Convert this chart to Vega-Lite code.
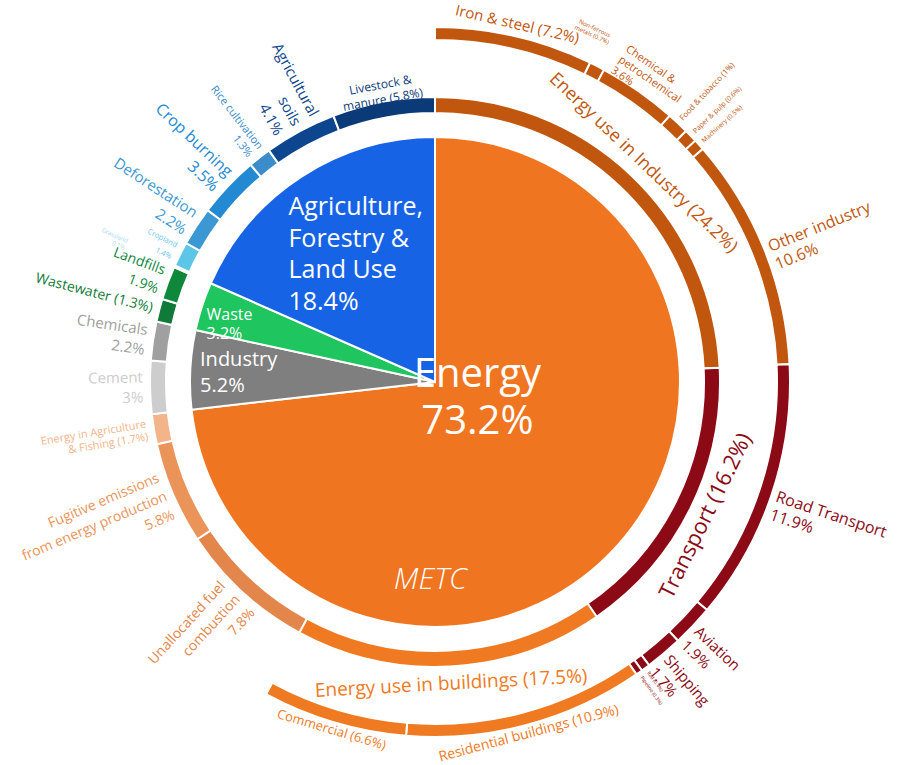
{
  "$schema": "https://vega.github.io/schema/vega-lite/v6.json",
  "width": 870,
  "height": 764,
  "autosize": {"type": "none"},
  "padding": {"left": 0, "top": 0, "right": 39, "bottom": 1},
  "background": "white",
  "config": {"view": {"stroke": null}, "text": {"font": "Open Sans", "lineBreak": "\n"}},
  "datasets": {
    "pie": [
      {"name": "Energy", "value": 73.2, "label": "Energy\n73.2%"},
      {"name": "Industry", "value": 5.2, "label": "Industry\n5.2%"},
      {"name": "Waste", "value": 3.2, "label": "Waste\n3.2%"},
      {"name": "Agriculture, Forestry & Land Use", "value": 18.4, "label": "Agriculture,\nForestry &\nLand Use\n18.4%"}
    ],
    "mid": [
      {"name": "Energy use in Industry", "value": 24.2, "label": "Energy use in Industry (24.2%)"},
      {"name": "Transport", "value": 16.2, "label": "Transport (16.2%)"},
      {"name": "Energy use in buildings", "value": 17.5, "label": "Energy use in buildings (17.5%)"},
      {"name": "Unallocated fuel combustion", "value": 7.8, "label": "Unallocated fuel\ncombustion\n7.8%"},
      {"name": "Fugitive emissions from energy production", "value": 5.8, "label": "Fugitive emissions\nfrom energy production\n5.8%"},
      {"name": "Energy in Agriculture & Fishing", "value": 1.7, "label": "Energy in Agriculture\n& Fishing (1.7%)"},
      {"name": "Cement", "value": 3, "label": "Cement\n3%"},
      {"name": "Chemicals", "value": 2.2, "label": "Chemicals\n2.2%"},
      {"name": "Wastewater", "value": 1.3, "label": "Wastewater (1.3%)"},
      {"name": "Landfills", "value": 1.9, "label": "Landfills\n1.9%"},
      {"name": "Grassland", "value": 0.1, "label": "Grassland\n0.1%"},
      {"name": "Cropland", "value": 1.4, "label": "Cropland\n1.4%"},
      {"name": "Deforestation", "value": 2.2, "label": "Deforestation\n2.2%"},
      {"name": "Crop burning", "value": 3.5, "label": "Crop burning\n3.5%"},
      {"name": "Rice cultivation", "value": 1.3, "label": "Rice cultivation\n1.3%"},
      {"name": "Agricultural soils", "value": 4.1, "label": "Agricultural\nsoils\n4.1%"},
      {"name": "Livestock & manure", "value": 5.8, "label": "Livestock &\nmanure (5.8%)"}
    ],
    "out": [
      {"name": "Iron & steel", "value": 7.2, "label": "Iron & steel (7.2%)"},
      {"name": "Non-ferrous metals", "value": 0.7, "label": "Non-ferrous\nmetals (0.7%)"},
      {"name": "Chemical & petrochemical", "value": 3.6, "label": "Chemical &\npetrochemical\n3.6%"},
      {"name": "Food & tobacco", "value": 1, "label": "Food & tobacco (1%)"},
      {"name": "Paper & pulp", "value": 0.6, "label": "Paper & pulp (0.6%)"},
      {"name": "Machinery", "value": 0.5, "label": "Machinery (0.5%)"},
      {"name": "Other industry", "value": 10.6, "label": "Other industry\n10.6%"},
      {"name": "Road Transport", "value": 11.9, "label": "Road Transport\n11.9%"},
      {"name": "Aviation", "value": 1.9, "label": "Aviation\n1.9%"},
      {"name": "Shipping", "value": 1.7, "label": "Shipping\n1.7%"},
      {"name": "Rail", "value": 0.4, "label": "Rail (0.4%)"},
      {"name": "Pipeline", "value": 0.3, "label": "Pipeline (0.3%)"},
      {"name": "Residential buildings", "value": 10.9, "label": "Residential buildings (10.9%)"},
      {"name": "Commercial", "value": 6.6, "label": "Commercial (6.6%)"},
      {"name": "Not subdivided", "value": 42.1, "label": ""}
    ]
  },
  "encoding": {
    "theta": {"field": "value", "type": "quantitative", "stack": true},
    "order": {"field": "i", "type": "quantitative"},
    "color": {
      "field": "name", "type": "nominal", "legend": null,
      "scale": {
        "domain": ["Energy","Industry","Waste","Agriculture, Forestry & Land Use","Energy use in Industry","Transport","Energy use in buildings","Unallocated fuel combustion","Fugitive emissions from energy production","Energy in Agriculture & Fishing","Cement","Chemicals","Wastewater","Landfills","Grassland","Cropland","Deforestation","Crop burning","Rice cultivation","Agricultural soils","Livestock & manure","Iron & steel","Non-ferrous metals","Chemical & petrochemical","Food & tobacco","Paper & pulp","Machinery","Other industry","Road Transport","Aviation","Shipping","Rail","Pipeline","Residential buildings","Commercial","Not subdivided"],
        "range": ["#ef7521","#7f7f7f","#1fc55e","#1763e6","#c1570f","#8c0a16","#ef7a22","#e3864b","#ea9459","#f4b48a","#cdcdcd","#a0a0a0","#107a38","#0f883c","#9fd8ef","#5dc6e8","#3b98d2","#2289d2","#3a8ccb","#0d468e","#0b3a78","#c1570f","#c1570f","#c1570f","#c1570f","#c1570f","#c1570f","#c1570f","#8c0a16","#8c0a16","#8c0a16","#8c0a16","#8c0a16","#ef7a22","#ef7a22","#ffffff"]
      }
    }
  },
  "layer": [
    {
      "data": {"name": "pie"},
      "transform": [{"window": [{"op": "row_number", "as": "i"}]}],
      "mark": {"type": "arc", "outerRadius": 245, "stroke": "white", "strokeWidth": 2}
    },
    {
      "data": {"name": "mid"},
      "transform": [{"window": [{"op": "row_number", "as": "i"}]}],
      "mark": {"type": "arc", "outerRadius": 285, "innerRadius": 269, "stroke": "white", "strokeWidth": 2}
    },
    {
      "data": {"name": "out"},
      "transform": [{"window": [{"op": "row_number", "as": "i"}]}],
      "mark": {"type": "arc", "outerRadius": 355, "innerRadius": 342, "stroke": "white", "strokeWidth": 2}
    },
    {
      "data": {"name": "pie"},
      "transform": [{"window": [{"op": "row_number", "as": "i"}]}],
      "mark": {"type": "text", "radius": 43, "thetaOffset": -0.894, "align": "center", "baseline": "middle", "fontSize": 40, "lineHeight": 47},
      "encoding": {
        "color": {"value": "white"},
        "detail": {"field": "name"},
        "text": {"field": "label", "condition": {"test": "datum.name !== 'Energy'", "value": ""}}
      }
    },
    {
      "data": {"name": "pie"},
      "transform": [{"window": [{"op": "row_number", "as": "i"}]}],
      "mark": {"type": "text", "radius": 228, "thetaOffset": -0.12, "align": "left", "baseline": "middle", "fontSize": 25, "lineHeight": 31.5},
      "encoding": {
        "color": {"value": "white"},
        "detail": {"field": "name"},
        "text": {"field": "label", "condition": {"test": "datum.name !== 'Agriculture, Forestry & Land Use'", "value": ""}}
      }
    },
    {
      "data": {"name": "pie"},
      "transform": [{"window": [{"op": "row_number", "as": "i"}]}],
      "mark": {"type": "text", "radius": 236, "thetaOffset": 0.043, "align": "left", "baseline": "middle", "fontSize": 20, "lineHeight": 26},
      "encoding": {
        "color": {"value": "white"},
        "detail": {"field": "name"},
        "text": {"field": "label", "condition": {"test": "datum.name !== 'Industry'", "value": ""}}
      }
    },
    {
      "data": {"name": "pie"},
      "transform": [{"window": [{"op": "row_number", "as": "i"}]}],
      "mark": {"type": "text", "radius": 238, "thetaOffset": -0.03, "align": "left", "baseline": "middle", "fontSize": 16, "lineHeight": 19},
      "encoding": {
        "color": {"value": "white"},
        "detail": {"field": "name"},
        "text": {"field": "label", "condition": {"test": "datum.name !== 'Waste'", "value": ""}}
      }
    },
    {
      "data": {"name": "pie"},
      "transform": [{"window": [{"op": "row_number", "as": "i"}]}],
      "mark": {"type": "text", "radius": 198, "thetaOffset": 0.866, "align": "center", "baseline": "middle", "fontSize": 30, "fontStyle": "italic", "fontWeight": 300},
      "encoding": {
        "color": {"value": "white"},
        "detail": {"field": "name"},
        "text": {"condition": {"test": "datum.name === 'Energy'", "value": "METC"}, "value": ""}
      }
    },
    {
      "data": {"name": "mid"},
      "transform": [{"window": [{"op": "row_number", "as": "i"}]}],
      "mark": {"type": "text", "radius": 292, "align": "right", "baseline": "middle", "fontSize": 14, "angle": 14.6},
      "encoding": {
        "text": {"field": "label", "condition": {"test": "datum.name !== 'Wastewater'", "value": ""}}
      }
    },
    {
      "data": {"name": "mid"},
      "transform": [{"window": [{"op": "row_number", "as": "i"}]}],
      "mark": {"type": "text", "radius": 292, "align": "right", "baseline": "middle", "lineHeight": 20, "dy": -10},
      "encoding": {
        "text": {"field": "label", "condition": {"test": "indexof(['Cement','Chemicals','Landfills','Deforestation','Crop burning'], datum.name) < 0", "value": ""}},
        "angle": {"field": "name", "type": "nominal", "scale": {"type": "ordinal", "domain": ["Cement","Chemicals","Landfills","Deforestation","Crop burning"], "range": [358.9, 8.3, 20.3, 33.1, 43.4]}},
        "size": {"field": "name", "type": "nominal", "legend": null, "scale": {"type": "ordinal", "domain": ["Cement","Chemicals","Landfills","Deforestation","Crop burning"], "range": [15, 15, 14, 15, 16]}}
      }
    },
    {
      "data": {"name": "mid"},
      "transform": [{"window": [{"op": "row_number", "as": "i"}]}],
      "mark": {"type": "text", "radius": 292, "align": "right", "baseline": "middle", "lineHeight": 20, "dy": -20},
      "encoding": {
        "text": {"field": "label", "condition": {"test": "indexof(['Unallocated fuel combustion','Fugitive emissions from energy production','Agricultural soils'], datum.name) < 0", "value": ""}},
        "angle": {"field": "name", "type": "nominal", "scale": {"type": "ordinal", "domain": ["Unallocated fuel combustion","Fugitive emissions from energy production","Agricultural soils"], "range": [312.5, 337, 61.7]}},
        "size": {"field": "name", "type": "nominal", "legend": null, "scale": {"type": "ordinal", "domain": ["Unallocated fuel combustion","Fugitive emissions from energy production","Agricultural soils"], "range": [14, 14, 15]}}
      }
    },
    {
      "data": {"name": "mid"},
      "transform": [{"window": [{"op": "row_number", "as": "i"}]}],
      "mark": {"type": "text", "radius": 292, "align": "right", "baseline": "middle", "lineHeight": 13, "dy": -6},
      "encoding": {
        "text": {"field": "label", "condition": {"test": "indexof(['Energy in Agriculture & Fishing','Rice cultivation','Cropland'], datum.name) < 0", "value": ""}},
        "angle": {"field": "name", "type": "nominal", "scale": {"type": "ordinal", "domain": ["Energy in Agriculture & Fishing","Rice cultivation","Cropland"], "range": [350.5, 52, 26.6]}},
        "size": {"field": "name", "type": "nominal", "legend": null, "scale": {"type": "ordinal", "domain": ["Energy in Agriculture & Fishing","Rice cultivation","Cropland"], "range": [11, 11, 7.5]}}
      }
    },
    {
      "data": {"name": "mid"},
      "transform": [{"window": [{"op": "row_number", "as": "i"}]}],
      "mark": {"type": "text", "radius": 338, "align": "right", "baseline": "middle", "fontSize": 6, "lineHeight": 7.5, "angle": 24, "dy": -4},
      "encoding": {
        "text": {"field": "label", "condition": {"test": "datum.name !== 'Grassland'", "value": ""}}
      }
    },
    {
      "data": {"name": "mid"},
      "transform": [{"window": [{"op": "row_number", "as": "i"}]}],
      "mark": {"type": "text", "radius": 302, "align": "center", "baseline": "middle", "lineHeight": 15},
      "encoding": {
        "text": {"field": "label", "condition": {"test": "indexof(['Energy use in Industry','Transport','Energy use in buildings','Livestock & manure'], datum.name) < 0", "value": ""}},
        "angle": {"field": "name", "type": "nominal", "scale": {"type": "ordinal", "domain": ["Energy use in Industry","Transport","Energy use in buildings","Livestock & manure"], "range": [43.6, 296.3, 356.9, 349.6]}},
        "size": {"field": "name", "type": "nominal", "legend": null, "scale": {"type": "ordinal", "domain": ["Energy use in Industry","Transport","Energy use in buildings","Livestock & manure"], "range": [18, 22, 19, 12]}}
      }
    },
    {
      "data": {"name": "out"},
      "transform": [{"window": [{"op": "row_number", "as": "i"}]}],
      "mark": {"type": "text", "radius": 359, "align": "center", "baseline": "bottom", "fontSize": 15, "angle": 13},
      "encoding": {
        "text": {"field": "label", "condition": {"test": "datum.name !== 'Iron & steel'", "value": ""}}
      }
    },
    {
      "data": {"name": "out"},
      "transform": [{"window": [{"op": "row_number", "as": "i"}]}],
      "mark": {"type": "text", "radius": 385, "thetaOffset": -0.088, "align": "left", "baseline": "middle", "fontSize": 11, "lineHeight": 13, "angle": 34.9},
      "encoding": {
        "text": {"field": "label", "condition": {"test": "datum.name !== 'Chemical & petrochemical'", "value": ""}}
      }
    },
    {
      "data": {"name": "out"},
      "transform": [{"window": [{"op": "row_number", "as": "i"}]}],
      "mark": {"type": "text", "radius": 357, "align": "center", "baseline": "top", "lineHeight": 16},
      "encoding": {
        "text": {"field": "label", "condition": {"test": "indexof(['Residential buildings','Commercial'], datum.name) < 0", "value": ""}},
        "angle": {"field": "name", "type": "nominal", "scale": {"type": "ordinal", "domain": ["Residential buildings","Commercial"], "range": [345.1, 16.6]}},
        "size": {"field": "name", "type": "nominal", "legend": null, "scale": {"type": "ordinal", "domain": ["Residential buildings","Commercial"], "range": [14, 13]}}
      }
    },
    {
      "data": {"name": "out"},
      "transform": [{"window": [{"op": "row_number", "as": "i"}]}],
      "mark": {"type": "text", "radius": 388, "thetaOffset": -0.05, "align": "center", "baseline": "middle", "fontSize": 6, "lineHeight": 7, "angle": 25},
      "encoding": {
        "text": {"field": "label", "condition": {"test": "datum.name !== 'Non-ferrous metals'", "value": ""}}
      }
    },
    {
      "data": {"name": "out"},
      "transform": [{"window": [{"op": "row_number", "as": "i"}]}],
      "mark": {"type": "text", "radius": 360, "align": "left", "baseline": "middle", "lineHeight": 19},
      "encoding": {
        "text": {"field": "label", "condition": {"test": "indexof(['Food & tobacco','Paper & pulp','Machinery','Other industry','Road Transport','Aviation','Shipping','Rail','Pipeline'], datum.name) < 0", "value": ""}},
        "angle": {"field": "name", "type": "nominal", "scale": {"type": "ordinal", "domain": ["Food & tobacco","Paper & pulp","Machinery","Other industry","Road Transport","Aviation","Shipping","Rail","Pipeline"], "range": [313.2, 316.1, 318.1, 338, 18.5, 43.4, 49.9, 53.6, 54.9]}},
        "size": {"field": "name", "type": "nominal", "legend": null, "scale": {"type": "ordinal", "domain": ["Food & tobacco","Paper & pulp","Machinery","Other industry","Road Transport","Aviation","Shipping","Rail","Pipeline"], "range": [8, 7, 6.5, 16, 16, 15, 15, 5, 5]}}
      }
    }
  ],
  "resolve": {"scale": {"angle": "independent", "size": "independent"}}
}
